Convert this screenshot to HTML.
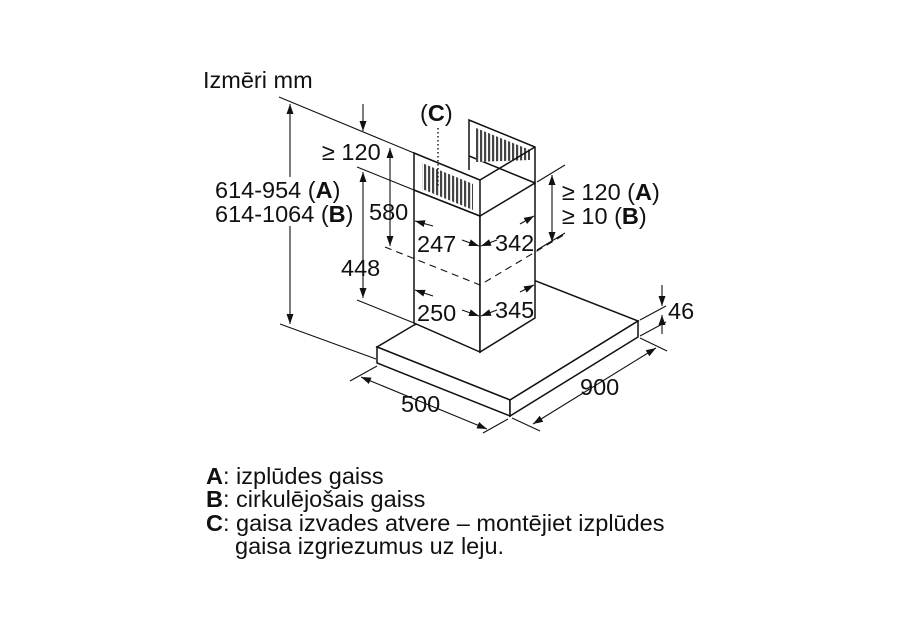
<!DOCTYPE html>
<html><head><meta charset="utf-8"><style>
html,body{margin:0;padding:0;background:#fff;width:900px;height:632px;overflow:hidden}
svg text{font-family:"Liberation Sans",Arial,sans-serif;fill:#111}
</style></head><body>
<svg width="900" height="632" viewBox="0 0 900 632" xmlns="http://www.w3.org/2000/svg">
<defs>
<marker id="a" viewBox="0 0 10 10" refX="10" refY="5" markerWidth="10" markerHeight="10" orient="auto-start-reverse" markerUnits="userSpaceOnUse"><path d="M0,1.5 L10,5 L0,8.5 Z" fill="#111"/></marker>
<pattern id="sl" width="4" height="4" patternUnits="userSpaceOnUse"><rect width="4" height="4" fill="#fff"/><rect width="2.2" height="4" fill="#444"/></pattern>
</defs>
<g stroke="#111" stroke-width="1.1" fill="none">
<polygon points="377,347 414,325 536,281 638,321 510,400" fill="#fff" stroke-width="1.5"/>
<polygon points="377,347 510,400 510,416 377,363" fill="#fff" stroke-width="1.5"/>
<polygon points="510,400 638,321 638,337 510,416" fill="#fff" stroke-width="1.5"/>
<polygon points="414,190 480,216 480,352 414,323" fill="#fff" stroke-width="1.5"/>
<polygon points="480,216 535,183 535,318 480,352" fill="#fff" stroke-width="1.5"/>
<polygon points="469,120 535,147 535,183 469,156" fill="#fff" stroke-width="1.5"/>
<polygon points="476,128 530,150 530,160 476,162" fill="url(#sl)" stroke="none"/>
<polygon points="414,153 480,180 480,216 414,190" fill="#fff" stroke-width="1.5"/>
<polygon points="422,163 473,184 473,210 422,189" fill="url(#sl)" stroke="none"/>
<line x1="480" y1="180" x2="535" y2="147" stroke-width="1.5"/>
<line x1="469" y1="156" x2="469" y2="170" stroke-width="1.5"/>
<polyline points="385,247 480,285 567,233" stroke-dasharray="7,5"/>
<line x1="438" y1="128" x2="438" y2="186" stroke-dasharray="1.5,2.5" stroke-width="1.4"/>
<line x1="279" y1="97" x2="414" y2="153"/>
<line x1="357" y1="167" x2="414" y2="190"/>
<line x1="357" y1="300" x2="414" y2="323"/>
<line x1="280" y1="324" x2="376" y2="359"/>
<line x1="350" y1="381" x2="377" y2="366"/>
<line x1="483" y1="433" x2="508" y2="419"/>
<line x1="512" y1="418" x2="540" y2="431"/>
<line x1="640" y1="338" x2="667" y2="351"/>
<line x1="537" y1="182" x2="565" y2="165"/>
<line x1="537" y1="250" x2="565" y2="233"/>
<line x1="640" y1="320" x2="666" y2="306"/>
<line x1="640" y1="336" x2="666" y2="322"/>
<line x1="290" y1="177" x2="290" y2="104" marker-end="url(#a)"/>
<line x1="290" y1="226" x2="290" y2="324" marker-end="url(#a)"/>
<line x1="363" y1="104" x2="363" y2="131" marker-end="url(#a)"/>
<line x1="363" y1="298" x2="363" y2="172" marker-end="url(#a)" marker-start="url(#a)"/>
<line x1="390" y1="148" x2="390" y2="246" marker-end="url(#a)" marker-start="url(#a)"/>
<line x1="552" y1="175" x2="552" y2="242" marker-end="url(#a)" marker-start="url(#a)"/>
<line x1="361" y1="377" x2="487" y2="429" marker-end="url(#a)" marker-start="url(#a)"/>
<line x1="533" y1="424" x2="656" y2="348" marker-end="url(#a)" marker-start="url(#a)"/>
<line x1="662" y1="285" x2="662" y2="306" marker-end="url(#a)"/>
<line x1="662" y1="334" x2="662" y2="315" marker-end="url(#a)"/>
<line x1="433" y1="226" x2="415" y2="221" marker-end="url(#a)"/>
<line x1="462" y1="240" x2="479" y2="246" marker-end="url(#a)"/>
<line x1="497" y1="240" x2="481" y2="246" marker-end="url(#a)"/>
<line x1="520" y1="224" x2="534" y2="216" marker-end="url(#a)"/>
<line x1="433" y1="296" x2="415" y2="290" marker-end="url(#a)"/>
<line x1="462" y1="310" x2="479" y2="316" marker-end="url(#a)"/>
<line x1="497" y1="310" x2="481" y2="316" marker-end="url(#a)"/>
<line x1="520" y1="292" x2="534" y2="285" marker-end="url(#a)"/>
</g>
<g font-size="23.5">
<text x="203" y="88">Izmēri mm</text>
<text x="215" y="198">614-954 (<tspan font-weight="bold">A</tspan>)</text>
<text x="215" y="222">614-1064 (<tspan font-weight="bold">B</tspan>)</text>
<text x="322" y="160">≥ 120</text>
<text x="369" y="220">580</text>
<text x="341" y="276">448</text>
<text x="417" y="252">247</text>
<text x="495" y="251">342</text>
<text x="417" y="321">250</text>
<text x="495" y="318">345</text>
<text x="420" y="121">(<tspan font-weight="bold">C</tspan>)</text>
<text x="562" y="200">≥ 120 (<tspan font-weight="bold">A</tspan>)</text>
<text x="562" y="224">≥ 10 (<tspan font-weight="bold">B</tspan>)</text>
<text x="668" y="319">46</text>
<text x="401" y="412">500</text>
<text x="580" y="395">900</text>
<text x="206" y="484"><tspan font-weight="bold">A</tspan>: izplūdes gaiss</text>
<text x="206" y="507"><tspan font-weight="bold">B</tspan>: cirkulējošais gaiss</text>
<text x="206" y="531"><tspan font-weight="bold">C</tspan>: gaisa izvades atvere – montējiet izplūdes</text>
<text x="235" y="554">gaisa izgriezumus uz leju.</text>
</g>
</svg>
</body></html>
